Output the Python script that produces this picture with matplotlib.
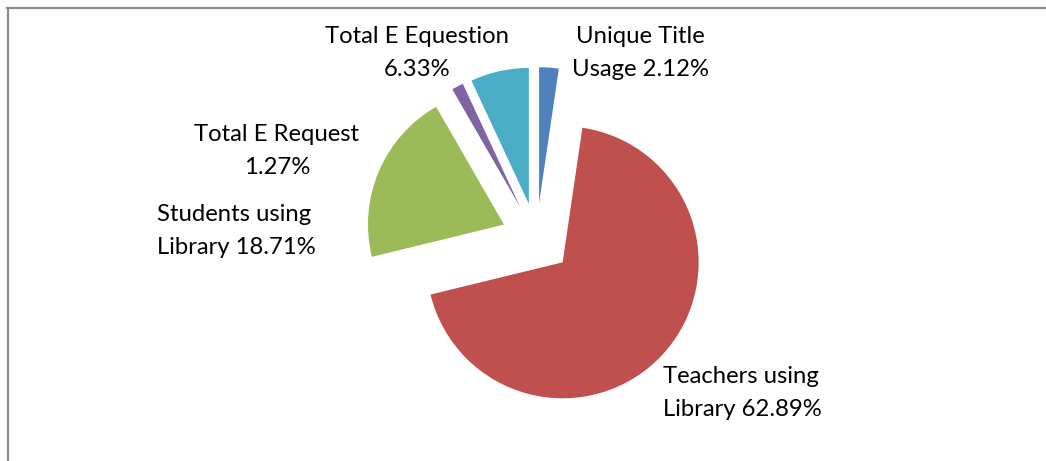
import matplotlib
matplotlib.use("Agg")
import matplotlib.pyplot as plt
from matplotlib.lines import Line2D

# slice data, clockwise from 12 o'clock
names = ["Unique Title Usage", "Teachers using Library", "Students using Library",
         "Total E Request", "Total E Equestion"]
values = [2.12, 62.89, 18.71, 1.27, 6.33]
label_texts = ["Unique Title\nUsage 2.12%", "Teachers using\nLibrary 62.89%",
               "Students using\nLibrary 18.71%", "Total E Request\n1.27%",
               "Total E Equestion\n6.33%"]
colors = ["#4F81BD", "#C0504D", "#9BBB59", "#8064A2", "#4BACC6"]

W, H = 1046, 461
fig = plt.figure(figsize=(W / 100, H / 100), dpi=100)
ax = fig.add_axes([0, 0, 1, 1])

# pie centre and radius in pixels
cx, cy, r = 536.5, 238.5, 136.0

ax.pie(values, colors=colors, startangle=90, counterclock=False,
       explode=[0.26] * len(values), radius=1.0,
       wedgeprops=dict(linewidth=0))
ax.set_xlim(-cx / r, (W - cx) / r)
ax.set_ylim(-(H - cy) / r, cy / r)
ax.axis("off")

font = dict(family="Lato", fontsize=17.2, color="black", linespacing=1.68)

def px(x, y):
    return x / W, 1 - y / H

# label positions (pixel centres of text blocks)
label_pos = [(640, 53, "center"), (663, 393, "left"), (157, 231, "left"),
             (277, 151, "center"), (417, 53, "center")]
for txt, (x, y, ha) in zip(label_texts, label_pos):
    fx, fy = px(x, y)
    fig.text(fx, fy, txt, ha=ha, va="center", multialignment=ha, **font)

# chart frame (top and left edges visible)
fig.add_artist(Line2D([7 / W, 1], [1 - 8.5 / H] * 2, color="#8c8c8c", lw=1.6,
                      transform=fig.transFigure))
fig.add_artist(Line2D([7.5 / W] * 2, [0, 1 - 8.5 / H], color="#8c8c8c", lw=1.6,
                      transform=fig.transFigure))

fig.savefig("out.png", dpi=100)
